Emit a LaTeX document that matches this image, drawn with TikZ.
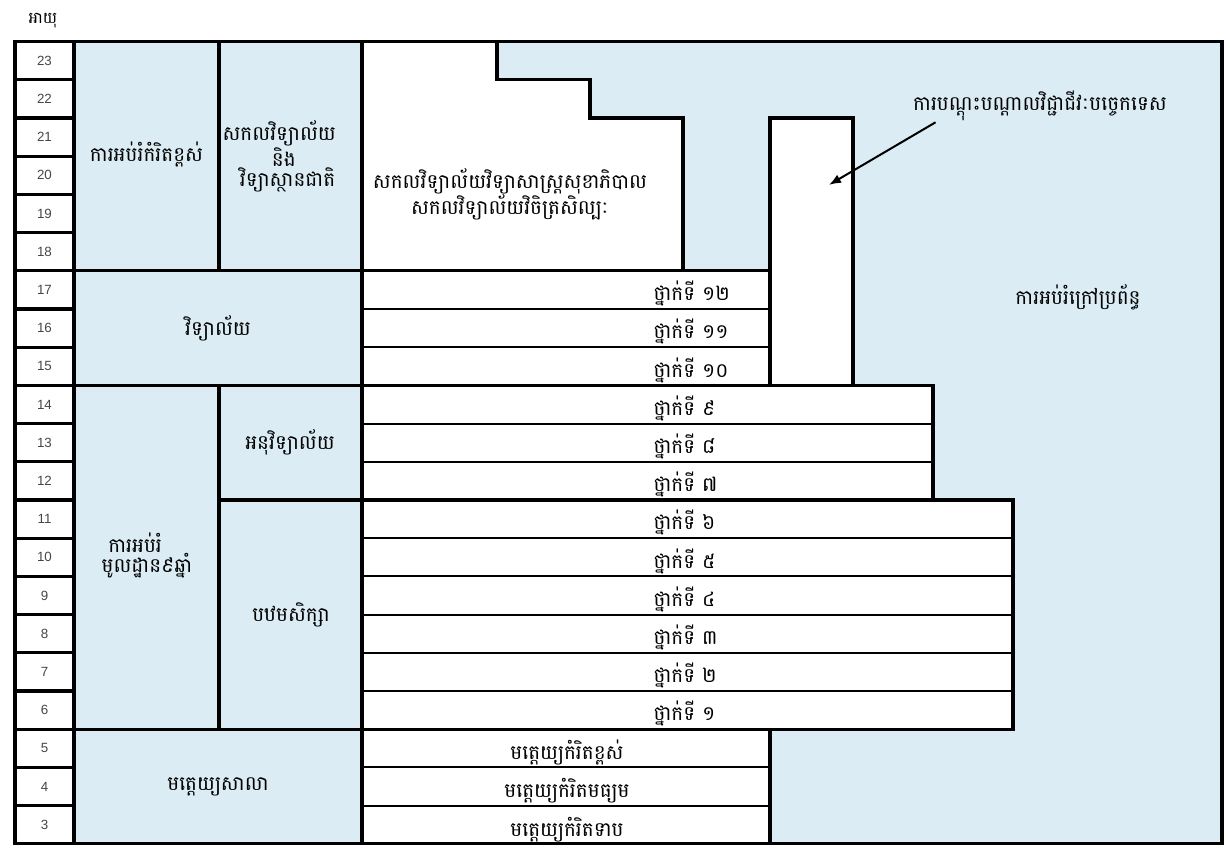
\documentclass[tikz,border=0pt]{standalone}
\usepackage{fontspec}
\setsansfont{Liberation Sans}
\newfontfamily\khmer[Script=Khmer]{Battambang}
\usetikzlibrary{arrows.meta}
\definecolor{paleblue}{RGB}{219,236,244}
\definecolor{agegray}{RGB}{70,70,70}

\begin{document}
\begin{tikzpicture}[x=0.75pt, y=28.65pt,
    block/.style={draw, line width=2.4pt, fill=paleblue},
    white block/.style={draw, line width=2.4pt, fill=white},
    stair/.style={draw, line width=2.4pt},
    grade/.style={draw, line width=1.5pt, fill=white},
    kh/.style={font=\khmer\fontsize{15}{15}\selectfont, inner sep=1pt},
    age/.style={font=\sffamily\fontsize{10}{12}\selectfont, text=agegray}]
  \useasboundingbox (0,-0.13) rectangle (1230,22.09);
  \fill[paleblue] (15,0) rectangle (1222,21);

  \foreach \a/\r in {17/770,16/770,15/770,14/933,13/933,12/933,11/1013,10/1013,9/1013,8/1013,7/1013,6/1013,5/770,4/770,3/770}
    \draw[grade] (362,\a-3) rectangle (\r,\a-2);
  \draw[stair] (362,12) rectangle (770,15);
  \draw[stair] (362,9) rectangle (933,12);
  \draw[stair] (362,3) rectangle (1013,9);
  \draw[stair] (362,0) rectangle (770,3);
  \draw[white block] (770,12) rectangle (853,19);
  \draw[white block] (362,15) -- (362,21) -- (497,21) -- (497,20) -- (590,20) -- (590,19) -- (683,19) -- (683,15) -- cycle;

  \draw[block] (74,15) rectangle (219,21);
  \draw[block] (219,15) rectangle (362,21);
  \draw[block] (74,12) rectangle (362,15);
  \draw[block] (74,3) rectangle (219,12);
  \draw[block] (219,9) rectangle (362,12);
  \draw[block] (219,3) rectangle (362,9);
  \draw[block] (74,0) rectangle (362,3);

  \foreach \a in {3,...,23}{
    \draw[white block] (15,\a-3) rectangle (74,\a-2);
    \node[age] (age\a) at (44.5,\a-2.5) {\a};
  }
  \draw[line width=2.4pt] (15,0) rectangle (1222,21);

  \foreach \a/\g in {17/១២,16/១១,15/១០,14/៩,13/៨,12/៧,11/៦,10/៥,9/៤,8/៣,7/២,6/១}
    \node[kh, anchor=west] (grade\a) at (652,\a-2.6) {ថ្នាក់ទី \g};
  \foreach \a/\t in {5/មត្តេយ្យកំរិតខ្ពស់,4/មត្តេយ្យកំរិតមធ្យម,3/មត្តេយ្យកំរិតទាប}
    \node[kh] (kinder\a) at (567,\a-2.62) {\t};

  \node[kh, font=\khmer\fontsize{12}{12}\selectfont] (agehead) at (43,21.55) {អាយុ};
  \node[kh] (higher) at (146.5,18.05) {ការអប់រំកំរិតខ្ពស់};
  \node[kh, align=left, anchor=west] (natuni) at (221,18.0) {សកលវិទ្យាល័យ\\\hspace{37pt}និង\\\hspace{13pt}វិទ្យាស្ថានជាតិ};
  \node[kh, align=center] (uni) at (510,17.0) {សកលវិទ្យាល័យវិទ្យាសាស្ត្រសុខាភិបាល\\សកលវិទ្យាល័យវិចិត្រសិល្បៈ};
  \node[kh] (tvet) at (1040,19.32) {ការបណ្ដុះបណ្ដាលវិជ្ជាជីវៈបច្ចេកទេស};
  \node[kh] (nonformal) at (1078,14.3) {ការអប់រំក្រៅប្រព័ន្ធ};
  \node[kh] (upper) at (218,13.5) {វិទ្យាល័យ};
  \node[kh, align=left, anchor=west] (basic) at (100,7.54) {\hspace{5pt}ការអប់រំ\\មូលដ្ឋាន៩ឆ្នាំ};
  \node[kh] (lower) at (290,10.5) {អនុវិទ្យាល័យ};
  \node[kh] (primary) at (291,6) {បឋមសិក្សា};
  \node[kh] (kinder) at (218,1.5) {មត្តេយ្យសាលា};

  \coordinate (tvettip) at (829,17.25);
  \draw[-{Latex[length=9pt,width=7pt]}, line width=1.5pt] ([xshift=18pt]tvet.south west) -- (tvettip);
\end{tikzpicture}
\end{document}
